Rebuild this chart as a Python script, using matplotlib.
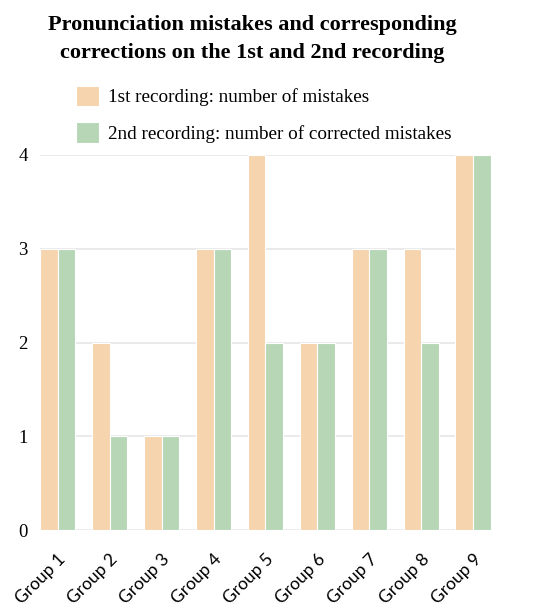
import numpy as np
import matplotlib
matplotlib.use('Agg')
import matplotlib.pyplot as plt

groups = ['Group 1', 'Group 2', 'Group 3', 'Group 4', 'Group 5',
          'Group 6', 'Group 7', 'Group 8', 'Group 9']
mistakes = [3, 2, 1, 3, 4, 2, 3, 3, 4]
corrected = [3, 1, 1, 3, 2, 2, 3, 2, 4]

plt.rcParams['font.family'] = ['Liberation Serif', 'DejaVu Serif']

fig = plt.figure(figsize=(5.49, 6.10), dpi=100)
ax = fig.add_axes([0.073, 0.131, 0.821, 0.615])

x = np.arange(len(groups))
w = 0.34
ax.bar(x - w / 2, mistakes, width=w, color='#f6d4ae', edgecolor='white',
       linewidth=0.8, label='1st recording: number of mistakes', zorder=2)
ax.bar(x + w / 2, corrected, width=w, color='#b6d6b6', edgecolor='white',
       linewidth=0.8, label='2nd recording: number of corrected mistakes', zorder=2)

ax.set_xlim(-w, len(groups) - 1 + w)
ax.set_ylim(0, 4)
ax.set_yticks([0, 1, 2, 3, 4])
ax.yaxis.grid(True, color='#e6e6e6', linewidth=1.2, zorder=0)
ax.set_axisbelow(True)
for s in ax.spines.values():
    s.set_visible(False)
ax.tick_params(axis='y', length=0, labelsize=13.5, pad=9)
ax.tick_params(axis='x', length=0, pad=15)
ax.set_xticks(x)
ax.set_xticklabels(groups, rotation=45, ha='right', rotation_mode='anchor',
                   family=['Lato', 'DejaVu Sans'], fontsize=12.5)

fig.text(0.46, 0.975, 'Pronunciation mistakes and corresponding\ncorrections on the 1st and 2nd recording',
         ha='center', va='top', fontsize=16, fontweight='bold', linespacing=1.5)

fig.legend(loc='upper left', bbox_to_anchor=(0.107, 0.888), frameon=False,
           fontsize=13.8, handlelength=1.2, handleheight=1.3, handletextpad=0.45,
           labelspacing=0.8)

plt.savefig('out.png', dpi=100)
